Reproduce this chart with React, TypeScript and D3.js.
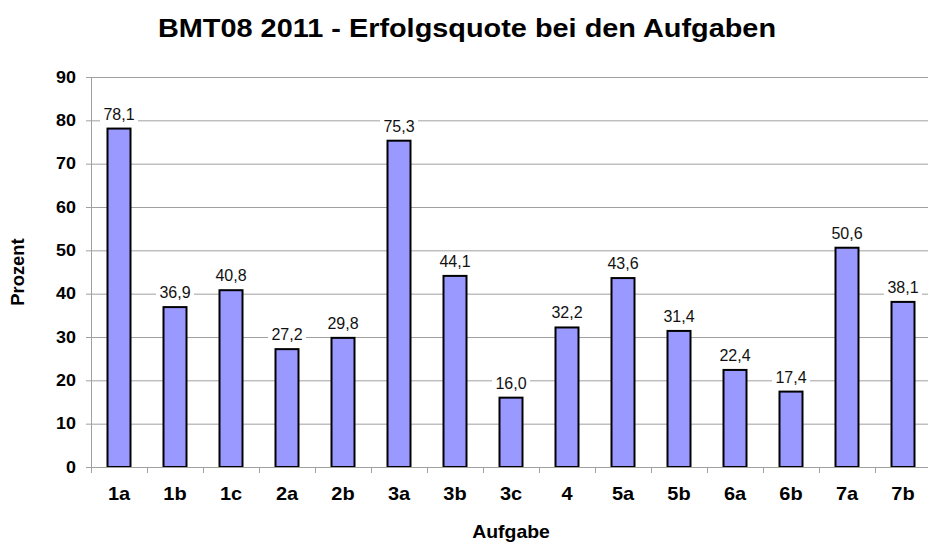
import * as d3 from 'd3';
import * as React from 'react';

// chart data
const categories: string[] = ['1a', '1b', '1c', '2a', '2b', '3a', '3b', '3c', '4', '5a', '5b', '6a', '6b', '7a', '7b'];
const values: number[] = [78.1, 36.9, 40.8, 27.2, 29.8, 75.3, 44.1, 16.0, 32.2, 43.6, 31.4, 22.4, 17.4, 50.6, 38.1];
const yTicks: number[] = [0, 10, 20, 30, 40, 50, 60, 70, 80, 90];

const title = 'BMT08 2011 - Erfolgsquote bei den Aufgaben';
const yTitle = 'Prozent';
const xTitle = 'Aufgabe';

const width = 928;
const height = 542;
const font = "Arial, 'Liberation Sans', sans-serif";

interface StretchProps {
    x: number;
    y: number;
    sx: number;
    size: number;
    anchor: 'start' | 'middle' | 'end';
    bold?: boolean;
    dy?: string;
    rotate?: number;
    children: React.ReactNode;
}

/**
 * Text that is slightly widened, like the original picture.
 */
function Stretch(props: StretchProps) {
    const rot = props.rotate ? ` rotate(${props.rotate})` : '';
    return (
        <g transform={`translate(${props.x},${props.y})${rot} scale(${props.sx},1)`}>
            <text x={0} y={0} dy={props.dy} textAnchor={props.anchor} fontFamily={font}
                fontWeight={props.bold ? 'bold' : 'normal'} fontSize={props.size} fill="#000">
                {props.children}
            </text>
        </g>
    );
}

/**
 * Bar chart component
 */
export default function App() {
    const left = 91;
    const step = 56;
    const top = 77;
    const bottom = 467;
    const barWidth = 23;

    const x = d3.scaleBand<string>()
        .domain(categories)
        .range([left, left + step * categories.length])
        .padding(0);

    const y = d3.scaleLinear()
        .domain([0, 90])
        .range([bottom, top]);

    const fmt = (v: number) => v.toFixed(1).replace('.', ',');
    const gridColor = '#a0a0a0';

    return (
        <div style={{ position: 'absolute', left: 0, top: 0 }}>
            <svg width={width} height={height} style={{ display: 'block', background: '#fff' }}>
                <Stretch x={467} y={37} sx={1.09} size={26.5} anchor="middle" bold>{title}</Stretch>

                {/* gridlines */}
                {yTicks.filter(t => t > 0).map(t => (
                    <line key={'g' + t} x1={left} x2={width} y1={y(t) + 0.5} y2={y(t) + 0.5}
                        stroke={gridColor} strokeWidth={1} />
                ))}

                {/* y ticks + labels */}
                {yTicks.map(t => (
                    <g key={'t' + t}>
                        <line x1={left - 5} x2={left} y1={y(t) + 0.5} y2={y(t) + 0.5} stroke={gridColor} />
                        <Stretch x={76} y={y(t)} dy="0.36em" sx={1.12} size={16} anchor="end" bold>{t}</Stretch>
                    </g>
                ))}

                {/* bars */}
                {categories.map((c, i) => {
                    const bx = (x(c) as number) + (step - barWidth) / 2;
                    return (
                        <rect key={'b' + c} x={bx} y={y(values[i])} width={barWidth}
                            height={bottom - y(values[i])} fill="#9999ff" stroke="#000" strokeWidth={2} />
                    );
                })}

                {/* value labels */}
                {categories.map((c, i) => {
                    const cx = (x(c) as number) + step / 2;
                    const ty = y(values[i]) - 9;
                    return (
                        <g key={'l' + c}>
                            <rect x={cx - 19} y={ty - 14} width={38} height={18} fill="#fff" />
                            <text x={cx} y={ty} textAnchor="middle" fontFamily={font} fontSize={16}
                                fill="#111">{fmt(values[i])}</text>
                        </g>
                    );
                })}

                {/* axes */}
                <line x1={left + 0.5} x2={left + 0.5} y1={top} y2={bottom + 6} stroke={gridColor} />
                <line x1={left} x2={width} y1={bottom + 0.5} y2={bottom + 0.5} stroke={gridColor} />
                {categories.map(c => (
                    <line key={'xt' + c} x1={(x(c) as number) + step + 0.5} x2={(x(c) as number) + step + 0.5}
                        y1={bottom} y2={bottom + 6} stroke={gridColor} />
                ))}
                {categories.map(c => (
                    <Stretch key={'xl' + c} x={(x(c) as number) + step / 2} y={500} sx={1.05} size={19}
                        anchor="middle" bold>{c}</Stretch>
                ))}

                <Stretch x={511} y={538} sx={1.08} size={18} anchor="middle" bold>{xTitle}</Stretch>
                <Stretch x={24} y={(top + bottom) / 2} sx={1.05} size={17.5} anchor="middle" bold
                    rotate={-90}>{yTitle}</Stretch>
            </svg>
        </div>
    );
}
